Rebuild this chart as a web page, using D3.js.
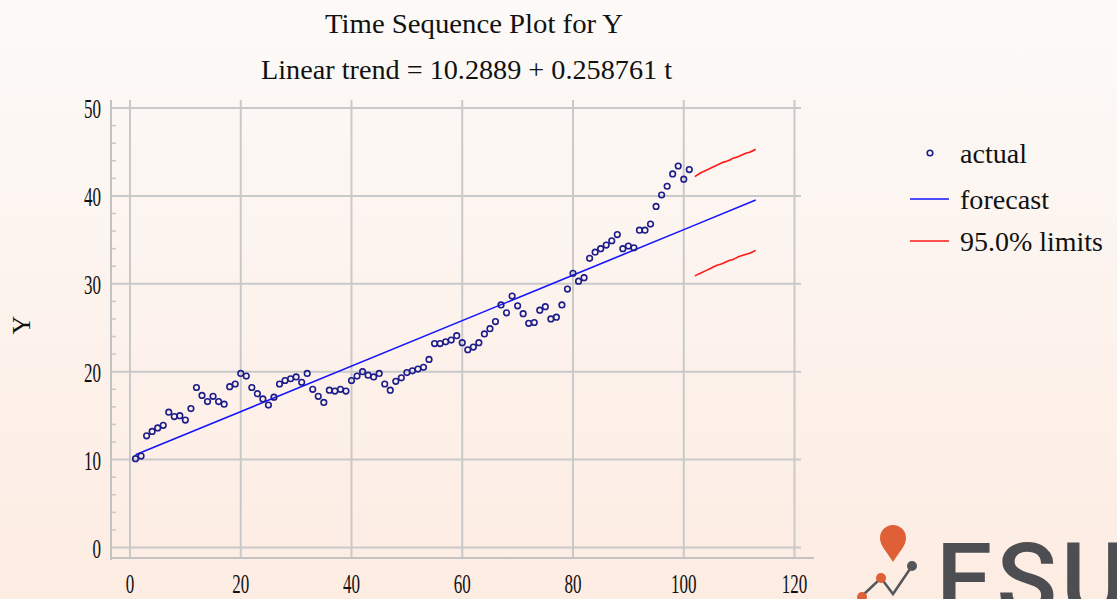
<!DOCTYPE html>
<html>
<head>
<meta charset="utf-8">
<script src="https://cdn.jsdelivr.net/npm/d3@7"></script>
<style>
  html, body { margin: 0; padding: 0; overflow: hidden; }
  svg { display: block; }
  text { font-family: "Liberation Serif", "DejaVu Serif", serif; fill: #111; }
</style>
</head>
<body>
<div id="chart"></div>
<script>
// values (period t = 1..101)
const actualY = [
    10.1, 10.4, 12.7, 13.2, 13.6, 13.9, 15.4, 14.9, 15.0, 14.5,
    15.8, 18.2, 17.3, 16.6, 17.2, 16.6, 16.3, 18.3, 18.6, 19.8,
    19.5, 18.2, 17.5, 16.9, 16.2, 17.1, 18.6, 19.0, 19.2, 19.4,
    18.8, 19.8, 18.0, 17.2, 16.5, 17.9, 17.8, 18.0, 17.8, 19.0,
    19.5, 20.0, 19.6, 19.4, 19.8, 18.6, 17.9, 18.9, 19.3, 19.9,
    20.1, 20.3, 20.5, 21.4, 23.2, 23.2, 23.4, 23.6, 24.1, 23.3,
    22.5, 22.8, 23.3, 24.3, 24.9, 25.7, 27.6, 26.7, 28.6, 27.5,
    26.6, 25.5, 25.6, 27.0, 27.4, 26.0, 26.2, 27.6, 29.4, 31.2,
    30.3, 30.7, 32.9, 33.6, 34.0, 34.4, 34.9, 35.6, 34.0, 34.3,
    34.1, 36.1, 36.1, 36.8, 38.8, 40.1, 41.1, 42.5, 43.4, 41.9,
    43.0
];
const forecastT = [1, 101, 113];
const forecastY = [10.55, 36.42, 39.53];
const limitT = [102, 103, 104, 105, 106, 107, 108, 109, 110, 111, 112, 113];
const upperY = [42.2, 42.6, 42.9, 43.2, 43.5, 43.8, 44.0, 44.3, 44.5, 44.8, 45.0, 45.3];
const lowerY = [30.9, 31.2, 31.5, 31.8, 32.1, 32.3, 32.6, 32.8, 33.1, 33.3, 33.5, 33.8];
const xTicks = [0, 20, 40, 60, 80, 100, 120];
const yTicks = [0, 10, 20, 30, 40, 50];
const legendItems = ['actual', 'forecast', '95.0% limits'];

const W = 1117, H = 599;
const gridColor = '#c9c9c9';

const svg = d3.select('#chart').append('svg')
    .attr('width', W)
    .attr('height', H);

const grad = svg.append('defs').append('linearGradient')
    .attr('id', 'bg').attr('x1', 0).attr('y1', 0).attr('x2', 0).attr('y2', 1);
grad.append('stop').attr('offset', '0%').attr('stop-color', '#fcfaf8');
grad.append('stop').attr('offset', '100%').attr('stop-color', '#fdece2');
svg.append('rect').attr('width', W).attr('height', H).attr('fill', 'url(#bg)');

const x = d3.scaleLinear().domain([0, 120]).range([130, 794.5]);
const y = d3.scaleLinear().domain([0, 50]).range([547.5, 108]);

const frame = { left: 111, right: 801, top: 100, bottom: 558 };

// grid
svg.append('g').selectAll('line')
    .data(xTicks)
    .join('line')
    .attr('x1', d => x(d)).attr('x2', d => x(d))
    .attr('y1', frame.top).attr('y2', frame.bottom)
    .attr('stroke', gridColor).attr('stroke-width', 2);

svg.append('g').selectAll('line')
    .data(yTicks)
    .join('line')
    .attr('x1', frame.left).attr('x2', frame.right)
    .attr('y1', d => y(d)).attr('y2', d => y(d))
    .attr('stroke', gridColor).attr('stroke-width', 2);

// minor ticks on the left frame
svg.append('g').selectAll('line')
    .data(d3.range(0, 51, 2).filter(d => d % 10 !== 0))
    .join('line')
    .attr('x1', frame.left).attr('x2', frame.left + 5)
    .attr('y1', d => y(d)).attr('y2', d => y(d))
    .attr('stroke', gridColor).attr('stroke-width', 1.5);

// frame
svg.append('line')
    .attr('x1', frame.left).attr('x2', frame.left)
    .attr('y1', frame.top).attr('y2', frame.bottom + 2)
    .attr('stroke', '#c2c2c2').attr('stroke-width', 2);
svg.append('line')
    .attr('x1', frame.left).attr('x2', 814)
    .attr('y1', frame.bottom).attr('y2', frame.bottom)
    .attr('stroke', '#c2c2c2').attr('stroke-width', 2);

// tick labels
svg.append('g').selectAll('text')
    .data(yTicks)
    .join('text')
    .attr('x', 101)
    .attr('y', d => y(d) + 10)
    .attr('text-anchor', 'end')
    .attr('font-size', 28)
    .attr('textLength', d => String(d).length * 8.5)
    .attr('lengthAdjust', 'spacingAndGlyphs')
    .text(d => d);

svg.append('g').selectAll('text')
    .data(xTicks)
    .join('text')
    .attr('x', d => x(d))
    .attr('y', 593)
    .attr('text-anchor', 'middle')
    .attr('font-size', 27)
    .attr('textLength', d => String(d).length * 8.5)
    .attr('lengthAdjust', 'spacingAndGlyphs')
    .text(d => d);

svg.append('text')
    .attr('transform', 'translate(30,325) rotate(-90)')
    .attr('text-anchor', 'middle')
    .attr('font-size', 26)
    .text('Y');

// titles
svg.append('text')
    .attr('x', 325).attr('y', 33)
    .attr('font-size', 28)
    .attr('textLength', 298)
    .attr('lengthAdjust', 'spacingAndGlyphs')
    .text('Time Sequence Plot for Y');
svg.append('text')
    .attr('x', 261).attr('y', 79)
    .attr('font-size', 28)
    .attr('textLength', 411)
    .attr('lengthAdjust', 'spacingAndGlyphs')
    .text('Linear trend = 10.2889 + 0.258761 t');

// forecast and limits
const straight = d3.line().x(d => x(d[0])).y(d => y(d[1]));
const smooth = d3.line().x(d => x(d[0])).y(d => y(d[1])).curve(d3.curveMonotoneX);

svg.append('path')
    .datum(forecastT.map((t, i) => [t, forecastY[i]]))
    .attr('d', straight)
    .attr('fill', 'none')
    .attr('stroke', '#1414ff')
    .attr('stroke-width', 1.6);

[upperY, lowerY].forEach(vals => {
    svg.append('path')
        .datum(limitT.map((t, i) => [t, vals[i]]))
        .attr('d', smooth)
        .attr('fill', 'none')
        .attr('stroke', '#ff1a1a')
        .attr('stroke-width', 1.6);
});

// actual points
svg.append('g').selectAll('circle')
    .data(actualY)
    .join('circle')
    .attr('cx', (d, i) => x(i + 1))
    .attr('cy', d => y(d))
    .attr('r', 2.8)
    .attr('fill', 'none')
    .attr('stroke', '#1c1c8a')
    .attr('stroke-width', 1.6);

// legend
const lg = svg.append('g');
lg.append('circle')
    .attr('cx', 930).attr('cy', 153).attr('r', 2.8)
    .attr('fill', 'none').attr('stroke', '#1c1c8a').attr('stroke-width', 1.6);
lg.append('line')
    .attr('x1', 910).attr('x2', 949).attr('y1', 199).attr('y2', 199)
    .attr('stroke', '#1414ff').attr('stroke-width', 1.6);
lg.append('line')
    .attr('x1', 910).attr('x2', 949).attr('y1', 241).attr('y2', 241)
    .attr('stroke', '#ff1a1a').attr('stroke-width', 1.6);

const legendWidths = [67, 89, 143];
lg.selectAll('text')
    .data(legendItems)
    .join('text')
    .attr('x', 960)
    .attr('y', (d, i) => [163, 209, 251][i])
    .attr('font-size', 28)
    .attr('textLength', (d, i) => legendWidths[i])
    .attr('lengthAdjust', 'spacingAndGlyphs')
    .text(d => d);

// logo in the corner
const logo = svg.append('g');
logo.append('path')
    .attr('d', 'M893,562 C887,552 880,546 880,538 A13,13 0 1 1 906,538 C906,546 899,552 893,562 Z')
    .attr('fill', '#df5f36');
logo.append('path')
    .attr('d', 'M862,596 L881,578 L893,594 L912,566')
    .attr('fill', 'none').attr('stroke', '#55565a').attr('stroke-width', 2.5);
logo.append('circle').attr('cx', 881).attr('cy', 578).attr('r', 5).attr('fill', '#df5f36');
logo.append('circle').attr('cx', 912).attr('cy', 566).attr('r', 5).attr('fill', '#55565a');
logo.append('circle').attr('cx', 862).attr('cy', 597).attr('r', 5).attr('fill', '#df5f36');
logo.append('text')
    .attr('x', 936).attr('y', 614)
    .attr('font-size', 100)
    .attr('letter-spacing', 4)
    .style('font-family', 'Roboto, "Open Sans", sans-serif')
    .style('font-weight', 500)
    .style('fill', '#4d4e52')
    .text('ESU');
</script>
</body>
</html>
